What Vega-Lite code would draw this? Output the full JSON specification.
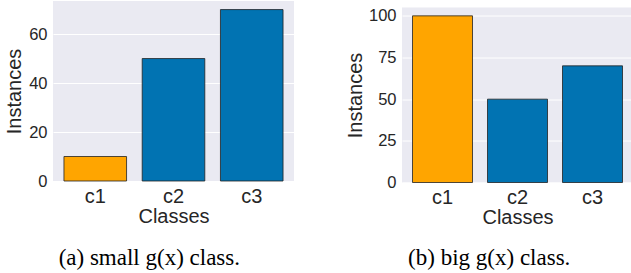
{
  "$schema": "https://vega.github.io/schema/vega-lite/v6.json",
  "padding": {"left": 4, "top": 1, "right": 0, "bottom": 0},
  "spacing": 51,
  "config": {
    "view": {"fill": "#EAEAF2", "stroke": null},
    "axis": {"domain": false, "ticks": false, "tickSize": 0, "gridColor": "#FFFFFF", "gridWidth": 1, "labelFont": "Liberation Sans", "labelFontSize": 16.5, "labelColor": "#262626", "titleFont": "Liberation Sans", "titleFontSize": 20, "titleFontWeight": "normal", "titleColor": "#262626", "labelPadding": 6},
    "axisX": {"labelAngle": 0, "titlePadding": 0, "labelPadding": 5, "labelFontSize": 20, "bandPosition": 0.5},
    "axisY": {"titlePadding": 4},
    "title": {"font": "Liberation Serif", "fontSize": 23, "fontWeight": "normal", "color": "#000000", "orient": "bottom", "frame": "bounds", "anchor": "middle", "offset": 20},
    "bar": {"stroke": "#222222", "strokeWidth": 0.8},
    "scale": {"bandPaddingInner": 0.2, "bandPaddingOuter": 0.14},
    "legend": {"disable": true}
  },
  "datasets": {
    "small": [
      {"cls": "c1", "instances": 10, "kind": "g(x)"},
      {"cls": "c2", "instances": 50, "kind": "other"},
      {"cls": "c3", "instances": 70, "kind": "other"}
    ],
    "big": [
      {"cls": "c1", "instances": 100, "kind": "g(x)"},
      {"cls": "c2", "instances": 50, "kind": "other"},
      {"cls": "c3", "instances": 70, "kind": "other"}
    ]
  },
  "hconcat": [
    {
      "data": {"name": "small"},
      "title": {"text": "(a) small g(x) class.", "offset": 20.5},
      "width": 241,
      "height": 180,
      "mark": "bar",
      "encoding": {
        "x": {"field": "cls", "type": "nominal", "title": "Classes", "sort": null},
        "y": {"field": "instances", "type": "quantitative", "title": "Instances", "scale": {"domain": [0, 73.5], "nice": false}, "axis": {"values": [0, 20, 40, 60], "titlePadding": 4}},
        "color": {"field": "kind", "type": "nominal", "scale": {"domain": ["g(x)", "other"], "range": ["#FFA500", "#0173B2"]}, "legend": null}
      }
    },
    {
      "spacing": 5.5,
      "vconcat": [
        {
          "data": {"values": []},
          "width": 231,
          "height": 1,
          "view": {"fill": null, "stroke": null},
          "mark": "rule",
          "encoding": {}
        },
        {
          "data": {"name": "big"},
          "title": {"text": "(b) big g(x) class.", "offset": 19},
          "width": 231,
          "height": 175,
          "mark": "bar",
          "encoding": {
            "x": {"field": "cls", "type": "nominal", "title": "Classes", "sort": null},
            "y": {"field": "instances", "type": "quantitative", "title": "Instances", "scale": {"domain": [0, 105], "nice": false}, "axis": {"values": [0, 25, 50, 75, 100], "titlePadding": 3}},
            "color": {"field": "kind", "type": "nominal", "scale": {"domain": ["g(x)", "other"], "range": ["#FFA500", "#0173B2"]}, "legend": null}
          }
        }
      ]
    }
  ]
}
